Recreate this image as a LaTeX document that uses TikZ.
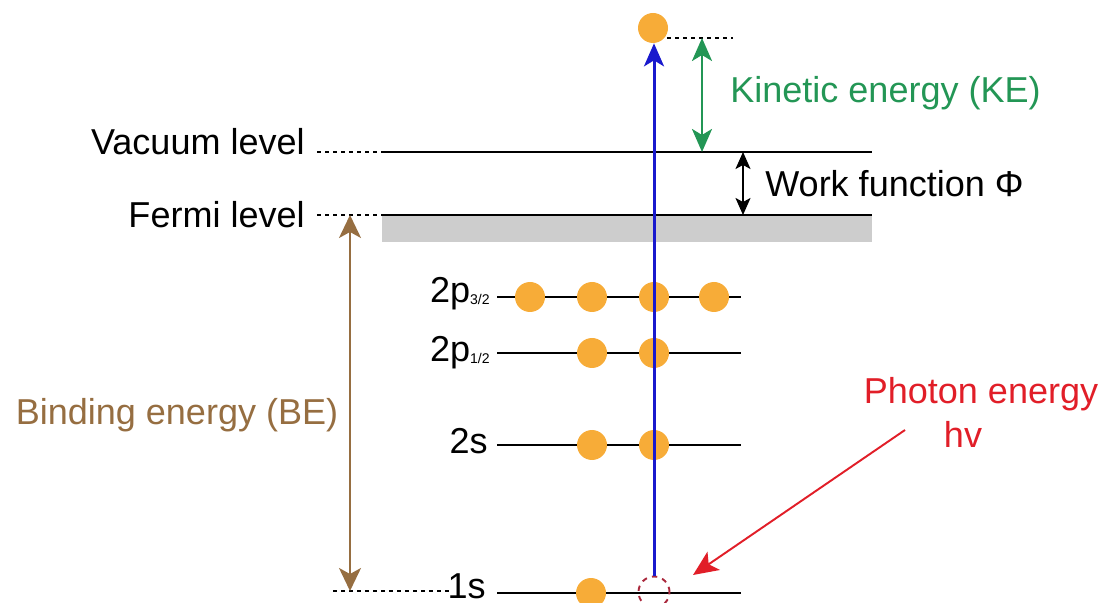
\documentclass[tikz,border=0pt]{standalone}
\usepackage{fontspec}
\setmainfont{Liberation Sans}
\usetikzlibrary{arrows.meta,positioning}
\definecolor{phblue}{RGB}{25,25,205}
\definecolor{kegreen}{RGB}{35,150,85}
\definecolor{bebrown}{RGB}{150,110,65}
\definecolor{hvred}{RGB}{225,30,40}
\definecolor{holered}{RGB}{170,40,60}
\definecolor{elorange}{RGB}{247,172,56}
\definecolor{bandgray}{RGB}{205,205,205}

\begin{document}
\begin{tikzpicture}[x=0.2mm,y=-0.2mm, every node/.style={font=\fontsize{20.5}{24}\selectfont,inner sep=0pt}, level/.style={line width=1.4pt,black}, dotline/.style={line width=0.85pt,dash pattern=on 0.8mm off 0.8mm}, elec/.style={circle,fill=elorange,minimum size=6mm}, hole/.style={circle,draw=holered,dashed,line width=1.1pt,minimum size=6.2mm}, photo/.style={-{Stealth[length=4.6mm,width=4mm,inset=1.2mm]},line width=1.7pt,phblue}, kearr/.style={{Stealth[length=4.6mm,width=4mm,inset=1.2mm]}-{Stealth[length=4.6mm,width=4mm,inset=1.2mm]},line width=1.6pt,kegreen}, wfarr/.style={{Stealth[length=3.4mm,width=3mm,inset=0.8mm]}-{Stealth[length=3.4mm,width=3mm,inset=0.8mm]},line width=1.1pt,black}, bearr/.style={{Stealth[length=4.6mm,width=4.4mm,inset=1.2mm]}-{Stealth[length=4.6mm,width=4.4mm,inset=1.2mm]},line width=1.1pt,bebrown}, hvarr/.style={-{Stealth[length=5mm,width=4.4mm,inset=1.2mm]},line width=1.1pt,hvred}]
\useasboundingbox (0,0) rectangle (1104,603);
% band and levels
\fill[bandgray] (382,215) rectangle (872,242);
\coordinate (vacD) at (317,152); \coordinate (vacL) at (382,152); \coordinate (vacR) at (872,152);
\coordinate (ferD) at (317,215); \coordinate (ferL) at (382,215); \coordinate (ferR) at (872,215);
\coordinate (p3L) at (497,297); \coordinate (p3R) at (741,297);
\coordinate (p1L) at (497,353); \coordinate (p1R) at (741,353);
\coordinate (sL) at (497,445); \coordinate (sR) at (741,445);
\coordinate (oneD) at (333,591); \coordinate (oneE) at (452,591); \coordinate (oneL) at (497,593); \coordinate (oneR) at (741,593);
\draw[level] (vacL)--(vacR);\draw[level] (ferL)--(ferR);\draw[level] (p3L)--(p3R);\draw[level] (p1L)--(p1R);\draw[level] (sL)--(sR);\draw[level] (oneL)--(oneR);
\draw[dotline] (vacD)--(vacL);\draw[dotline] (ferD)--(ferL);\draw[dotline] (oneD)--(oneE);
% labels
\node[anchor=base east] (vac) at (305,155) {Vacuum level};
\node[anchor=base east] (fer) at (305,228) {Fermi level};
\node[anchor=base east] (p3) at (490,303) {2p\raisebox{-0.6pt}{\fontsize{8}{9}\selectfont 3/2}};
\node[anchor=base east] (p1) at (490,362) {2p\raisebox{-0.6pt}{\fontsize{8}{9}\selectfont 1/2}};
\node[anchor=base east] (s2) at (488,453) {2s};
\node[anchor=base east] (s1) at (486,598) {1s};
\node[anchor=base west,text=kegreen] (ke) at (730,103) {Kinetic energy (KE)};
\node[anchor=base west] (wf) at (765,197) {Work function Φ};
\node[anchor=base,text=bebrown] (be) at (177,425) {Binding energy (BE)};
\node[anchor=base,text=hvred] (ph) at (981,403) {Photon energy};
\node[anchor=base,text=hvred] (hv) at (963,448) {hv};
% electrons
\node[elec] (a1) at (530,297) {};\node[elec] (a2) at (592,297) {};\node[elec] (a3) at (654,297) {};\node[elec] (a4) at (714,297) {};
\node[elec] (b1) at (592,353) {};\node[elec] (b2) at (654,353) {};
\node[elec] (c1) at (592,445) {};\node[elec] (c2) at (654,445) {};
\node[elec] (d1) at (591,593) {};\node[hole] (d2) at (654,592) {};
\node[elec] (top) at (653,28) {};
% energies
\coordinate (keT) at (702,38); \coordinate (keB) at (702,152); \coordinate (dotA) at (667,38); \coordinate (dotB) at (733,38);
\coordinate (wfT) at (743,152); \coordinate (wfB) at (743,215);
\coordinate (beT) at (350,215); \coordinate (beB) at (350,591);
\coordinate (hvS) at (905,430); \coordinate (hvE) at (693,575);
\draw[dotline] (dotA)--(dotB);
\draw[kearr] (keT)--(keB);\draw[wfarr] (wfT)--(wfB);\draw[bearr] (beT)--(beB);\draw[hvarr] (hvS)--(hvE);
\draw[photo] (d2.north)--(d2.north |- top.south);
\end{tikzpicture}
\end{document}
